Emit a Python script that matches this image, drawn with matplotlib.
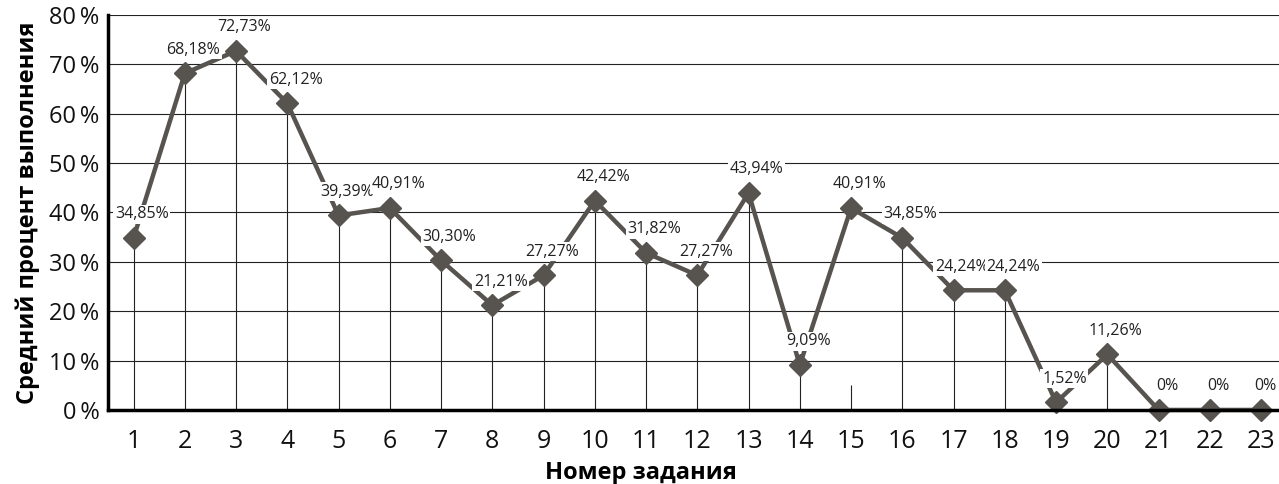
import matplotlib
matplotlib.use("Agg")
import matplotlib.pyplot as plt
from matplotlib.ticker import FuncFormatter

tasks = list(range(1, 24))
values = [34.85, 68.18, 72.73, 62.12, 39.39, 40.91, 30.30, 21.21, 27.27, 42.42,
          31.82, 27.27, 43.94, 9.09, 40.91, 34.85, 24.24, 24.24, 1.52, 11.26,
          0, 0, 0]
labels = ["34,85%", "68,18%", "72,73%", "62,12%", "39,39%", "40,91%", "30,30%",
          "21,21%", "27,27%", "42,42%", "31,82%", "27,27%", "43,94%", "9,09%",
          "40,91%", "34,85%", "24,24%", "24,24%", "1,52%", "11,26%", "0%", "0%", "0%"]
drop_tops = list(values)
drop_tops[14] = 5  # short stub in the reference at task 15

main_font = ['Open Sans', 'DejaVu Sans']

fig = plt.figure(figsize=(12.79, 4.84), dpi=100)
ax = fig.add_axes([0.0844, 0.153, 0.9156, 0.816])

ax.set_xlim(0.5, 23.35)
ax.set_ylim(0, 80)

for y in range(10, 81, 10):
    ax.axhline(y, color='#222222', lw=0.8, zorder=1)
ax.vlines(tasks, 0, drop_tops, color='#222222', lw=0.8, zorder=1)

ax.plot(tasks, values, color='#57534f', lw=3.2, marker='D', markersize=11,
        markerfacecolor='#57534f', markeredgecolor='#57534f', zorder=3, clip_on=False)

for i, (x, v, t) in enumerate(zip(tasks, values, labels)):
    dx = 3 if i == len(tasks) - 1 else 6
    ax.annotate(t, (x, v), xytext=(dx, 17), textcoords='offset points',
                ha='center', va='center', fontsize=11.5, family=main_font,
                color='#222222', zorder=4, annotation_clip=False,
                bbox=dict(boxstyle='square,pad=0.1', fc='white', ec='none'))

ax.set_xticks(tasks)
ax.set_xticklabels([str(t) for t in tasks], fontsize=18, family=main_font)
ax.set_yticks(range(0, 81, 10))
ax.yaxis.set_major_formatter(FuncFormatter(lambda v, p: f"{int(v)}\u2009%"))
for lbl in ax.get_yticklabels():
    lbl.set_family(main_font)
    lbl.set_fontsize(17)
ax.tick_params(axis='both', length=0, pad=6, colors='#111111')
ax.tick_params(axis='x', pad=14)

for s in ['top', 'right']:
    ax.spines[s].set_visible(False)
ax.spines['left'].set_linewidth(2.5)
ax.spines['bottom'].set_linewidth(2.5)
ax.spines['left'].set_zorder(5)
ax.spines['bottom'].set_zorder(5)

ax.set_ylabel("Средний процент выполнения", fontsize=17, fontweight='bold',
              family=main_font)
ax.yaxis.set_label_coords(-0.058, 0.5)
ax.set_xlabel("Номер задания", fontsize=17, fontweight='bold', family=main_font)
ax.xaxis.set_label_coords(0.455, -0.128)

fig.savefig("out.png", dpi=100)
